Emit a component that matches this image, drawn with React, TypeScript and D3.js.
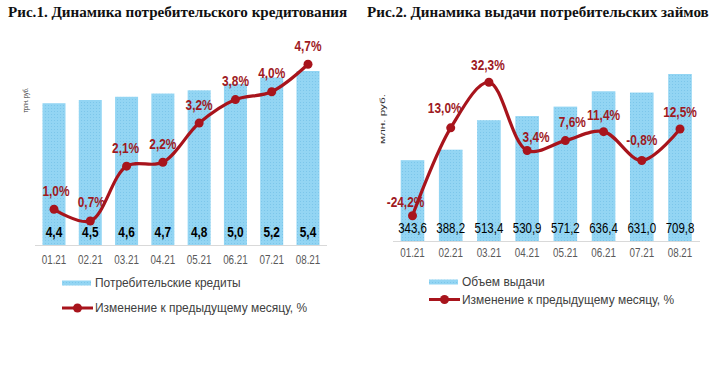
import React from "react";
import * as d3 from "d3";

const months = ["01.21", "02.21", "03.21", "04.21", "05.21", "06.21", "07.21", "08.21"];

const credits = [4.4, 4.5, 4.6, 4.7, 4.8, 5.0, 5.2, 5.4];
const creditsChange = [1.0, 0.7, 2.1, 2.2, 3.2, 3.8, 4.0, 4.7];

const loans = [343.6, 388.2, 513.4, 530.9, 571.2, 636.4, 631.0, 709.8];
const loansChange = [-24.2, 13.0, 32.3, 3.4, 7.6, 11.4, -0.8, 12.5];

const title1 = "Рис.1. Динамика потребительского кредитования";
const title2 = "Рис.2. Динамика выдачи потребительских займов";
const legend1 = ["Потребительские кредиты", "Изменение к предыдущему месяцу, %"];
const legend2 = ["Объем выдачи", "Изменение к предыдущему месяцу, %"];
const unit1 = "трлн. руб.";
const unit2 = "млн. руб.";

// label offsets (layout only)
const off1: [number, number][] = [[2, -18], [1, -19], [-1, -18], [0, -18], [0, -18], [0, -18], [0, -19], [0, -18]];
const off2: [number, number][] = [[-7, -14], [-6, -20], [-1, -17], [9, -13], [7, -19], [0, -17], [0, -20], [0, -17]];

const RED = "#A8141C";
const LABEL_RED = "#9E1A1F";
const SANS = "'Liberation Sans', Arial, sans-serif";
const SERIF = "'Liberation Serif', 'Times New Roman', serif";

const fmt = (v: number) => v.toFixed(1).replace(".", ",");

function NText(props: {
  x: number;
  y: number;
  size: number;
  bold?: boolean;
  fill: string;
  sx?: number;
  anchor?: string;
  children: React.ReactNode;
}) {
  const sx = props.sx ?? 0.82;
  return (
    <text
      transform={`translate(${props.x},${props.y}) scale(${sx},1)`}
      textAnchor={props.anchor ?? "middle"}
      dominantBaseline="central"
      fontFamily={SANS}
      fontWeight={props.bold ? "bold" : "normal"}
      fontSize={props.size}
      fill={props.fill}
    >
      {props.children}
    </text>
  );
}

type PanelProps = {
  id: string;
  title: string;
  titleX: number;
  bars: number[];
  change: number[];
  offsets: [number, number][];
  x0: number;
  x1: number;
  axisY: number;
  barWidth: number;
  barScale: [number, number];
  lineDomain: [number, number];
  lineRange: [number, number];
  barLabelY: number;
  barLabelBold: boolean;
  barLabelSize: number;
  tickY: number;
  axisX: [number, number];
  legend: string[];
  legendX: number;
  legendY: [number, number];
  unit: string;
  unitX: number;
  unitY: number;
  unitLen: number;
  unitSize: number;
};

function Panel(p: PanelProps) {
  const x = d3.scalePoint<string>().domain(months).range([p.x0, p.x1]);
  const yb = d3.scaleLinear().domain([0, p.barScale[0]]).range([p.axisY, p.axisY - p.barScale[1]]);
  const yl = d3.scaleLinear().domain(p.lineDomain).range(p.lineRange);
  const line = d3
    .line<number>()
    .x((_, i) => x(months[i])!)
    .y((d) => yl(d))
    .curve(d3.curveCatmullRom.alpha(0.5));
  return (
    <g>
      <text x={p.titleX} y={17} fontFamily={SERIF} fontWeight="bold" fontSize={15.1} fill="#111">
        {p.title}
      </text>
      <text
        transform={`translate(${p.unitX},${p.unitY}) rotate(-90)`}
        textAnchor="middle"
        fontFamily={SANS}
        fontSize={p.unitSize}
        fill="#333"
        textLength={p.unitLen}
        lengthAdjust="spacingAndGlyphs"
      >
        {p.unit}
      </text>
      {p.bars.map((v, i) => (
        <rect
          key={i}
          x={x(months[i])! - p.barWidth / 2}
          y={yb(v)}
          width={p.barWidth}
          height={p.axisY - yb(v)}
          fill={`url(#dots-${p.id})`}
        />
      ))}
      <line x1={p.axisX[0]} x2={p.axisX[1]} y1={p.axisY + 0.5} y2={p.axisY + 0.5} stroke="#D9D9D9" strokeWidth={1} />
      {months.map((m) => (
        <NText key={m} x={x(m)!} y={p.tickY} size={12} fill="#595959">
          {m}
        </NText>
      ))}
      {p.bars.map((v, i) => (
        <NText key={i} x={x(months[i])!} y={p.barLabelY} size={p.barLabelSize} bold={p.barLabelBold} fill="#000">
          {fmt(v)}
        </NText>
      ))}
      <path d={line(p.change) || ""} fill="none" stroke={RED} strokeWidth={3.2} strokeLinejoin="round" />
      {p.change.map((v, i) => (
        <circle key={i} cx={x(months[i])} cy={yl(v)} r={4.5} fill={RED} />
      ))}
      {p.change.map((v, i) => (
        <NText key={i} x={x(months[i])! + p.offsets[i][0]} y={yl(v) + p.offsets[i][1]} size={14.5} bold fill={LABEL_RED}>
          {fmt(v) + "%"}
        </NText>
      ))}
      <rect x={p.legendX} y={p.legendY[0] - 2.5} width={29} height={5} fill={`url(#dots-${p.id})`} />
      <NText x={p.legendX + 33} y={p.legendY[0]} size={12.6} sx={0.95} anchor="start" fill="#404040">
        {p.legend[0]}
      </NText>
      <line x1={p.legendX} x2={p.legendX + 31} y1={p.legendY[1]} y2={p.legendY[1]} stroke={RED} strokeWidth={3} />
      <circle cx={p.legendX + 15.5} cy={p.legendY[1]} r={4.5} fill={RED} />
      <NText x={p.legendX + 33} y={p.legendY[1]} size={12.6} sx={0.95} anchor="start" fill="#404040">
        {p.legend[1]}
      </NText>
    </g>
  );
}

export default function App() {
  return (
    <svg width={720} height={378} style={{ position: "absolute", left: 0, top: 0, background: "#fff" }}>
      <defs>
        {["a", "b"].map((id) => (
          <pattern key={id} id={`dots-${id}`} width={3} height={3} patternUnits="userSpaceOnUse">
            <rect width={3} height={3} fill="#93D5F3" />
            <rect width={1} height={1} fill="#7CC6EA" />
          </pattern>
        ))}
      </defs>
      <Panel
        id="a"
        title={title1}
        titleX={8}
        bars={credits}
        change={creditsChange}
        offsets={off1}
        x0={54}
        x1={308}
        axisY={245}
        barWidth={23}
        barScale={[5.4, 174]}
        lineDomain={[1.0, 4.7]}
        lineRange={[209.3, 64.3]}
        barLabelY={232}
        barLabelBold={true}
        barLabelSize={14.5}
        tickY={260}
        axisX={[35, 327]}
        legend={legend1}
        legendX={62}
        legendY={[283, 308]}
        unit={unit1}
        unitX={28}
        unitY={100}
        unitLen={25}
        unitSize={7}
      />
      <Panel
        id="b"
        title={title2}
        titleX={367}
        bars={loans}
        change={loansChange}
        offsets={off2}
        x0={412.5}
        x1={680}
        axisY={241}
        barWidth={23.6}
        barScale={[709.8, 167]}
        lineDomain={[-24.2, 32.3]}
        lineRange={[215.7, 82.3]}
        barLabelY={228.5}
        barLabelBold={false}
        barLabelSize={14}
        tickY={253}
        axisX={[393, 700]}
        legend={legend2}
        legendX={429}
        legendY={[282, 299.5]}
        unit={unit2}
        unitX={385}
        unitY={119}
        unitLen={50}
        unitSize={8}
      />
    </svg>
  );
}
